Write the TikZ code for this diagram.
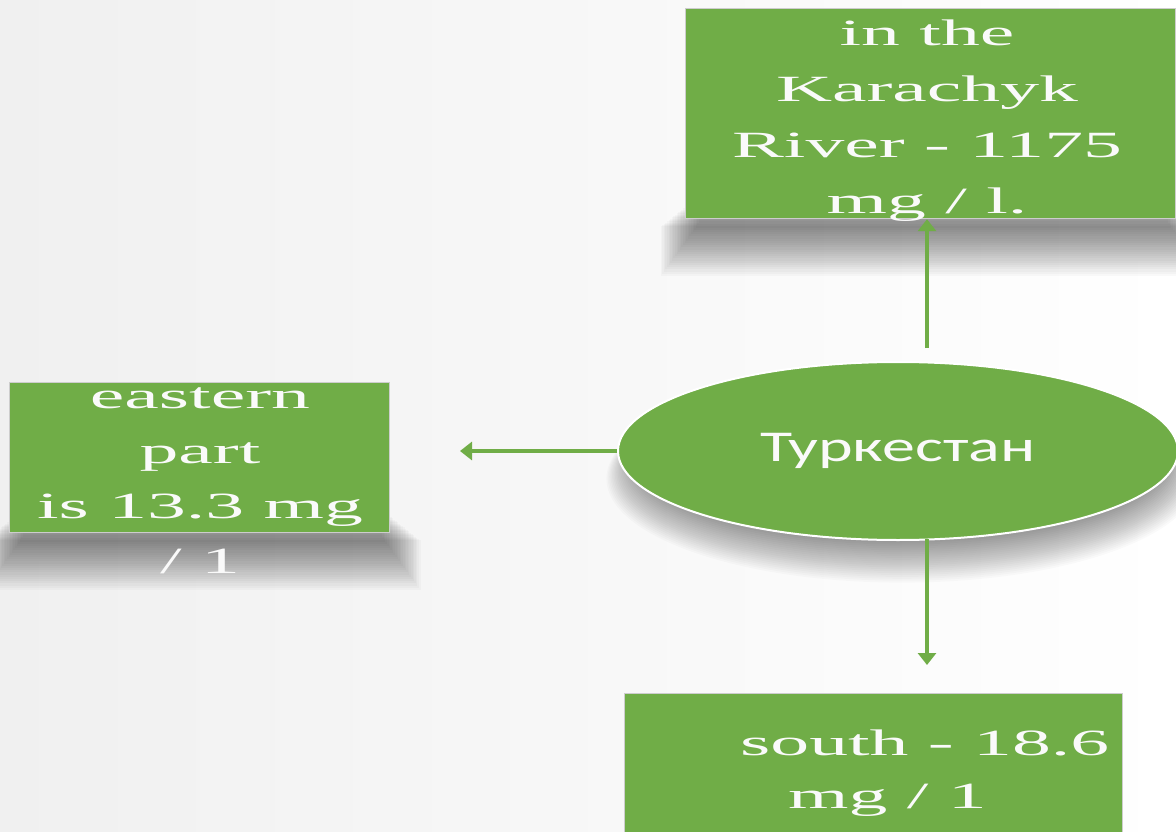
\documentclass[tikz,border=0pt]{standalone}
\usepackage{fontspec}
\setmainfont{Liberation Serif}
\newfontfamily\serifw[FakeStretch=2.1]{Liberation Serif}
\newfontfamily\sansw[FakeStretch=1.5]{Carlito}
\usetikzlibrary{arrows.meta,shapes.geometric,backgrounds}
\definecolor{grn}{RGB}{112,173,71}
\definecolor{txt}{RGB}{250,250,250}
\definecolor{rim}{RGB}{205,205,205}
\newcommand{\myboxshadow}[1]{%
  \foreach \k in {0,...,24} {%
    \fill[black, opacity=0.022]
      ([xshift={14pt-\k*1.6pt}, yshift={-4pt-\k*2.2pt}]#1.south west)
      rectangle ([xshift={-8pt+\k*1.6pt}, yshift={24pt-\k*1.3pt}]#1.south east);
  }}
\begin{document}
\begin{tikzpicture}[x=1pt,y=-1pt,
  greenbox/.style={rectangle, fill=grn, draw=rim, line width=1.2pt, inner sep=0pt, anchor=north west},
  greenell/.style={ellipse, fill=grn, draw=white, line width=2pt, inner sep=0pt},
  boxtext/.style={text=txt, inner sep=0pt, anchor=north, align=center},
  conn/.style={draw=grn, line width=3.5pt, -{Triangle[width=18pt,length=12pt]}}
]
\useasboundingbox (0,0) rectangle (1176,832);

% boxes
\node[greenbox, minimum width=490pt, minimum height=210pt] (topbox) at (685,8) {};
\node[greenbox, minimum width=380pt, minimum height=150pt] (leftbox) at (9,382) {};
\node[greenbox, minimum width=498pt, minimum height=160pt] (botbox) at (624,693) {};
\node[greenell, minimum width=560pt, minimum height=178pt] (center) at (898,451)
  {\sansw\fontsize{44}{50}\selectfont\color{txt}Туркестан};

\begin{pgfonlayer}{background}
  \shade[left color={rgb,255:red,240;green,240;blue,240}, right color=white] (0,0) rectangle (1176,832);
  \myboxshadow{topbox}
  \myboxshadow{leftbox}
  \myboxshadow{botbox}
  \foreach \k in {0,...,24} {%
    \fill[black, opacity=0.018]
      ([xshift=4pt, yshift={-6pt-\k*0.9pt}]center.center)
      ellipse ({262pt+\k*1.4pt} and {80pt+\k*1.0pt});
  }
\end{pgfonlayer}

% texts
\node[boxtext, font={\serifw\fontsize{37}{56}\selectfont}] (toptext) at (927,15)
  {\rule{0pt}{30pt}in the\\Karachyk\\River - 1175\\mg / l.};
\node[boxtext, font={\serifw\fontsize{37}{55}\selectfont}] (lefttext) at (200,378)
  {\rule{0pt}{30pt}eastern\\part\\is 13.3 mg\\/ 1};
\node[boxtext, anchor=north west, align=left, font={\serifw\fontsize{37}{53}\selectfont}] (bottext) at (740,725)
  {\rule{0pt}{30pt}south - 18.6\\\hspace*{48pt}mg / 1};

% connectors
\coordinate (topstart) at (927,348);
\coordinate (botstart) at (927,539);
\coordinate (botend) at (927,665);
\coordinate (leftend) at (460,451);
\draw[conn] (topstart) -- (topstart |- topbox.south);
\draw[conn] (botstart) -- (botend);
\draw[conn] (center.west) -- (leftend);
\end{tikzpicture}
\end{document}
